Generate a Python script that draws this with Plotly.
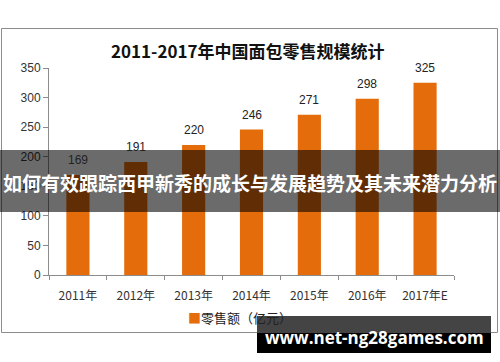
import plotly.graph_objects as go

categories = ["2011年", "2012年", "2013年", "2014年", "2015年", "2016年", "2017年E"]
values = [169, 191, 220, 246, 271, 298, 325]
y_ticks = [0, 50, 100, 150, 200, 250, 300, 350]

title_text = "2011-2017年中国面包零售规模统计"
legend_text = "零售额（亿元）"
banner_text = "如何有效跟踪西甲新秀的成长与发展趋势及其未来潜力分析"
site_text = "www.net-ng28games.com"

W, H = 500, 362
L, R, T, B = 49, 454, 68, 275  # plot area in pixels

def px(x):
    return (x - L) / (R - L)

def py(y):
    return (B - y) / (B - T)

ORANGE = "#E46C0A"
CJK = "Noto Sans CJK SC"

fig = go.Figure()
fig.add_trace(go.Bar(
    x=categories, y=values,
    marker=dict(color=ORANGE, line=dict(width=0)),
    width=0.4,
    showlegend=False,
))

shapes = [
    dict(type="rect", xref="paper", yref="paper",
         x0=px(1.5), x1=px(497.5), y0=py(28.5), y1=py(332.5),
         line=dict(color="#8c8c8c", width=1), fillcolor="rgba(0,0,0,0)", layer="below"),
    dict(type="rect", xref="paper", yref="paper",
         x0=px(0), x1=px(500), y0=py(150), y1=py(212),
         line=dict(width=0), fillcolor="rgba(0,0,0,0.58)", layer="above"),
    dict(type="rect", xref="paper", yref="paper",
         x0=px(257), x1=px(491), y0=py(316), y1=py(333),
         line=dict(width=0), fillcolor="#444444", layer="above"),
    dict(type="rect", xref="paper", yref="paper",
         x0=px(257), x1=px(491), y0=py(333), y1=py(353),
         line=dict(width=0), fillcolor="#000000", layer="above"),
]

annotations = []
for c, v in zip(categories, values):
    annotations.append(dict(
        text=str(v), x=c, y=v, xref="x", yref="y",
        xanchor="center", yanchor="bottom", yshift=6, showarrow=False,
        font=dict(family="Liberation Sans, Arial", size=12, color="#222"),
    ))

annotations += [
    dict(text="<b>" + title_text + "</b>", xref="paper", yref="paper",
         x=px(248), y=py(50), xanchor="center", yanchor="middle", showarrow=False,
         font=dict(family=CJK, size=17, color="#111")),
    dict(text='<span style="color:%s">■</span>%s' % (ORANGE, legend_text),
         xref="paper", yref="paper",
         x=px(186), y=py(317), xanchor="left", yanchor="middle", showarrow=False,
         font=dict(family=CJK, size=13, color="#222")),
    dict(text="<b>" + banner_text + "</b>", xref="paper", yref="paper",
         x=px(250), y=py(182), xanchor="center", yanchor="middle", showarrow=False,
         font=dict(family=CJK, size=19, color="#ffffff")),
    dict(text="<b>" + site_text + "</b>", xref="paper", yref="paper",
         x=px(374), y=py(337), xanchor="center", yanchor="middle", showarrow=False,
         font=dict(family="Open Sans", size=17, color="#ffffff")),
]

fig.update_layout(
    width=W, height=H,
    margin=dict(l=L, r=W - R, t=T, b=H - B, pad=0),
    paper_bgcolor="white", plot_bgcolor="white",
    bargap=0.6,
    shapes=shapes,
    annotations=annotations,
    xaxis=dict(
        type="category", showline=True, linecolor="#8c8c8c", linewidth=1,
        ticks="outside", tickson="boundaries", ticklen=4, tickcolor="#8c8c8c",
        ticklabelstandoff=10,
        tickfont=dict(family=CJK, size=12, color="#333"),
        showgrid=False, zeroline=False, fixedrange=True,
    ),
    yaxis=dict(
        range=[0, 350], tickvals=y_ticks, showline=True, linecolor="#8c8c8c", linewidth=1,
        ticks="outside", ticklen=5, tickcolor="#8c8c8c",
        tickfont=dict(family="Liberation Sans, Arial", size=12, color="#333"),
        showgrid=False, zeroline=False, fixedrange=True,
    ),
)

fig.write_html("out.html")
